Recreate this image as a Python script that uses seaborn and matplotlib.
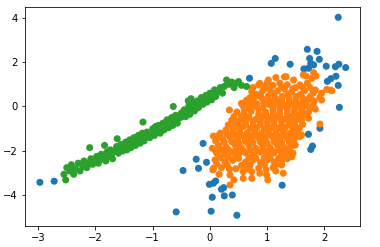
import matplotlib
matplotlib.use("Agg")
import matplotlib.pyplot as plt
import seaborn as sns
import pandas as pd

blue_pts = [
    (2.24, 4.01), (1.70, 2.57), (1.87, 2.48), (1.14, 2.16), (1.07, 1.94), (1.40, 1.90),
    (1.74, 2.16), (1.76, 1.94), (1.81, 1.87), (1.91, 2.12), (1.72, 1.72), (1.64, 1.69),
    (2.03, 1.81), (2.19, 1.79), (2.25, 1.90), (2.37, 1.75), (0.69, 1.27), (2.05, 1.13),
    (2.11, 1.25), (2.20, 1.36), (2.24, 0.95), (2.26, -0.04), (1.92, -0.98), (1.72, -1.25),
    (1.79, -1.78), (1.76, -1.93), (-0.12, -1.66), (-0.24, -2.37), (-0.20, -2.78),
    (-0.06, -2.51), (-0.47, -2.88), (-0.01, -3.50), (0.06, -3.45), (0.10, -3.35),
    (0.20, -3.72), (0.24, -3.65), (0.25, -4.02), (0.39, -3.98), (0.04, -4.08),
    (0.02, -4.71), (0.47, -4.89), (1.26, -3.54), (-2.97, -3.41), (-2.72, -3.36),
    (-0.59, -4.74),
]

orange_pts = [
    (1.02, 1.19), (1.15, 1.30), (1.30, 1.33), (1.63, 1.42), (1.68, 1.37), (1.81, 1.52),
    (1.78, 1.27), (1.85, 1.37), (1.46, 1.19), (0.87, 1.04), (1.00, 1.07), (1.33, 1.34),
    (0.85, 0.97), (0.95, 0.90), (1.10, 0.95), (1.22, 1.05), (1.35, 0.98), (1.57, 0.97),
    (1.70, 1.05), (1.50, 0.85),
    (0.75, 0.85), (0.98, 0.82), (1.25, 0.88), (1.45, 0.80), (1.62, 0.85), (1.75, 0.85),
    (2.04, 0.77), (2.13, 0.71), (2.10, 0.74), (1.84, 0.74), (0.73, 0.67), (0.80, 0.55),
    (0.92, 0.70), (1.05, 0.75), (1.18, 0.70), (1.30, 0.78), (1.42, 0.65), (1.65, 0.70),
    (1.95, 0.60),
    (0.88, 0.55), (1.12, 0.58), (1.36, 0.55), (1.58, 0.55), (1.80, 0.60),
    (0.67, 0.22), (0.79, 0.45), (0.90, 0.40), (1.02, 0.48), (1.14, 0.38), (1.26, 0.45),
    (1.38, 0.35), (1.50, 0.45), (1.62, 0.38), (1.75, 0.45), (1.92, 0.41), (1.95, 0.29),
    (1.69, 0.22),
    (0.70, 0.40), (1.08, 0.22), (1.38, 0.22), (1.62, 0.22), (1.82, 0.25),
    (0.75, 0.25), (1.00, 0.28), (1.25, 0.28), (1.50, 0.25), (1.72, 0.32),
    (0.55, 0.14), (0.64, 0.29), (0.70, 0.05), (0.82, 0.12), (0.94, 0.18), (1.05, 0.08),
    (1.18, 0.15), (1.30, 0.05), (1.42, 0.12), (1.55, 0.05), (1.66, 0.10), (1.80, 0.05),
    (0.58, 0.02), (1.00, 0.12), (1.24, 0.12), (1.50, 0.12),
    (0.80, 0.00), (1.10, -0.02), (1.35, -0.02), (1.62, -0.02),
    (0.66, -0.05), (0.92, -0.05), (1.22, -0.08), (1.48, -0.08), (1.74, -0.05),
    (0.34, -0.16), (0.47, -0.25), (0.60, -0.15), (0.72, -0.22), (0.85, -0.12), (0.97, -0.25),
    (1.10, -0.18), (1.22, -0.28), (1.35, -0.15), (1.47, -0.25), (1.60, -0.18), (1.72, -0.25),
    (1.84, -0.12),
    (0.60, -0.35), (0.85, -0.35), (1.10, -0.35), (1.35, -0.35), (1.58, -0.32),
    (0.55, -0.42), (0.98, -0.40), (1.22, -0.40), (1.48, -0.40),
    (0.42, -0.45), (0.55, -0.55), (0.68, -0.48), (0.80, -0.58), (0.92, -0.45), (1.05, -0.55),
    (1.18, -0.48), (1.30, -0.58), (1.42, -0.45), (1.55, -0.55), (1.63, -0.38), (1.72, -0.53),
    (0.38, -0.62), (0.62, -0.62), (0.88, -0.65), (1.12, -0.62), (1.38, -0.62), (1.60, -0.62),
    (0.50, -0.65), (0.75, -0.68), (1.00, -0.70), (1.25, -0.68), (1.48, -0.70),
    (0.32, -0.83), (0.45, -0.80), (0.50, -0.91), (0.62, -0.78), (0.75, -0.88), (0.88, -0.80),
    (1.00, -0.90), (1.12, -0.78), (1.25, -0.88), (1.38, -0.82), (1.50, -0.92), (1.62, -0.80),
    (1.92, -0.79),
    (0.58, -0.90), (0.82, -0.95), (1.08, -0.95), (1.32, -0.95), (1.56, -0.98),
    (0.40, -0.98), (0.70, -0.98), (0.95, -1.00), (1.20, -0.98), (1.45, -1.00),
    (0.28, -1.05), (0.40, -1.15), (0.52, -1.08), (0.65, -1.18), (0.78, -1.10), (0.90, -1.20),
    (1.02, -1.08), (1.15, -1.18), (1.28, -1.10), (1.40, -1.20), (1.52, -1.12), (1.60, -1.28),
    (0.18, -1.20), (0.45, -1.30), (0.70, -1.32), (0.95, -1.32), (1.20, -1.32), (1.42, -1.35),
    (0.30, -1.25), (0.55, -1.28), (0.80, -1.30), (1.05, -1.28), (1.30, -1.30), (1.50, -1.30),
    (0.06, -1.33), (0.13, -1.33), (0.22, -1.45), (0.35, -1.38), (0.48, -1.48), (0.60, -1.40),
    (0.72, -1.50), (0.85, -1.42), (0.97, -1.52), (1.10, -1.40), (1.22, -1.50), (1.35, -1.42),
    (1.47, -1.48), (1.57, -1.35),
    (0.10, -1.55), (0.38, -1.58), (0.62, -1.58), (0.88, -1.60), (1.12, -1.58), (1.38, -1.60),
    (0.25, -1.60), (0.50, -1.62), (0.75, -1.62), (1.00, -1.65), (1.25, -1.62),
    (0.04, -1.88), (0.15, -1.75), (0.28, -1.82), (0.44, -1.73), (0.55, -1.85), (0.68, -1.75),
    (0.80, -1.88), (0.92, -1.78), (1.05, -1.85), (1.18, -1.75), (1.30, -1.85), (1.42, -1.78),
    (1.49, -1.73),
    (0.20, -1.95), (0.45, -1.95), (0.70, -1.95), (0.95, -1.98), (1.20, -1.95), (1.38, -1.92),
    (0.10, -2.00), (0.32, -1.95), (0.58, -1.98), (0.82, -2.00), (1.08, -1.98), (1.30, -2.00),
    (0.12, -2.10), (0.25, -2.15), (0.38, -2.05), (0.50, -2.15), (0.62, -2.08), (0.75, -2.18),
    (0.88, -2.05), (1.00, -2.15), (1.12, -2.08), (1.25, -2.18), (1.36, -2.05), (1.45, -2.10),
    (0.32, -2.28), (0.68, -2.30), (1.05, -2.30), (1.20, -2.33),
    (0.18, -2.30), (0.45, -2.25), (0.80, -2.32), (0.95, -2.30), (1.30, -2.30),
    (0.09, -2.40), (0.26, -2.48), (0.40, -2.42), (0.50, -2.33), (0.62, -2.50), (0.75, -2.42),
    (0.88, -2.52), (1.00, -2.40), (1.12, -2.50), (1.25, -2.48), (1.43, -2.26), (1.35, -2.35),
    (0.12, -2.60), (0.30, -2.62), (0.55, -2.65), (0.70, -2.65), (0.95, -2.62), (1.15, -2.62),
    (0.05, -2.85), (0.06, -2.78), (0.20, -2.75), (0.34, -2.82), (0.58, -2.93), (0.73, -2.93),
    (0.85, -2.78), (0.98, -2.85), (1.10, -2.75), (1.25, -2.63),
    (0.45, -2.80), (0.65, -2.80), (1.15, -2.90),
    (0.16, -3.05), (0.35, -3.08), (0.42, -3.30), (0.58, -3.23), (0.73, -3.23), (0.87, -3.00),
    (0.99, -3.08), (1.01, -3.30), (1.28, -3.00), (0.35, -3.53),
]

green_pts = [
    (-2.55, -3.05), (-2.52, -3.30), (-2.50, -2.75), (-2.45, -2.90), (-2.42, -2.62),
    (-2.38, -3.05), (-2.35, -2.80), (-2.30, -2.55), (-2.27, -2.90), (-2.22, -2.70),
    (-2.20, -2.45), (-2.15, -2.75), (-2.12, -2.55), (-2.10, -1.85), (-2.08, -2.35),
    (-2.05, -2.60), (-2.02, -2.45), (-1.98, -2.25), (-1.95, -2.55), (-1.92, -2.40),
    (-1.90, -2.15), (-1.87, -2.30), (-1.84, -1.75), (-1.82, -2.45), (-1.80, -2.05),
    (-1.77, -2.25), (-1.74, -1.95), (-1.72, -2.15), (-1.70, -2.35), (-1.66, -2.00),
    (-1.63, -1.80), (-1.62, -1.45), (-1.60, -2.10), (-1.57, -1.90), (-1.55, -1.70),
    (-1.52, -2.00), (-1.50, -1.80), (-1.47, -1.60), (-1.45, -1.95), (-1.42, -1.75),
    (-1.40, -1.50), (-1.38, -1.85), (-1.35, -1.65), (-1.33, -1.40), (-1.30, -1.75),
    (-1.28, -1.55), (-1.25, -1.30), (-1.22, -1.65), (-1.20, -1.45), (-1.18, -1.20),
    (-1.15, -1.55), (-1.12, -1.35), (-1.10, -1.15), (-1.17, -0.70), (-1.05, -1.40),
    (-1.02, -1.20), (-1.00, -1.00), (-0.97, -1.30), (-0.95, -0.90), (-0.92, -1.10),
    (-0.90, -0.85), (-0.87, -1.20), (-0.85, -0.95), (-0.82, -0.75), (-0.80, -1.05),
    (-0.78, -0.85), (-0.75, -0.60), (-0.72, -0.95), (-0.70, -0.70), (-0.67, -0.50),
    (-0.65, -0.85), (-0.62, -0.60), (-0.60, -0.40), (-0.57, -0.75), (-0.64, 0.00),
    (-0.52, -0.50), (-0.50, -0.30), (-0.48, -0.45), (-0.45, -0.15), (-0.42, -0.45),
    (-0.40, -0.25), (-0.37, 0.00), (-0.35, -0.35), (-0.32, -0.10), (-0.30, 0.10),
    (-0.38, 0.25), (-0.33, 0.35), (-0.27, -0.20), (-0.25, 0.05), (-0.22, 0.25),
    (-0.20, -0.05), (-0.17, 0.20), (-0.15, 0.40), (-0.12, 0.10), (-0.10, 0.30),
    (-0.07, 0.50), (-0.05, 0.20), (-0.02, 0.40), (0.00, 0.60), (0.03, 0.30),
    (0.05, 0.55), (0.08, 0.75), (0.10, 0.45), (0.14, 0.65), (0.18, 0.85),
    (0.22, 0.60), (0.25, 0.90), (0.29, 1.19), (0.33, 1.00), (0.38, 1.10),
    (0.42, 0.85), (0.46, 1.05), (0.50, 1.12), (0.55, 0.95), (0.64, 0.90),
]

rows = []
for name, pts in (("0", blue_pts), ("1", orange_pts), ("2", green_pts)):
    for x, y in pts:
        rows.append({"x": x, "y": y, "cls": name})
df = pd.DataFrame(rows)

fig = plt.figure(figsize=(380 / 72, 247 / 72), dpi=72)
ax = fig.add_axes([25 / 380, (247 - 225.7) / 247, 335 / 380, 218.4 / 247])
palette = {"0": "#1f77b4", "1": "#ff7f0e", "2": "#2ca02c"}
sns.scatterplot(data=df, x="x", y="y", hue="cls", palette=palette, s=50,
                linewidth=0, legend=False, ax=ax)
ax.set_xlim(-3.23, 2.62)
ax.set_ylim(-5.36, 4.46)
ax.set_xticks([-3, -2, -1, 0, 1, 2])
ax.set_yticks([-4, -2, 0, 2, 4])
ax.set_xlabel("")
ax.set_ylabel("")
fig.savefig("out.png", dpi=72)
